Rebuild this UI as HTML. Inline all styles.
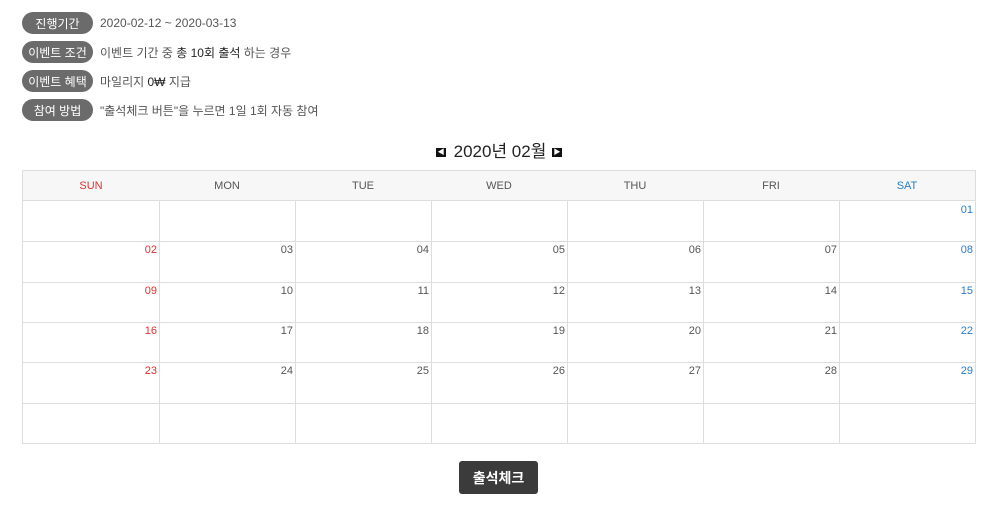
<!DOCTYPE html>
<html><head><meta charset="utf-8">
<style>
body{margin:0;width:1000px;height:515px;background:#fff;font-family:"Liberation Sans","Noto Sans CJK KR",sans-serif;position:relative;overflow:hidden}
.row{position:absolute;left:22px;height:22px;display:flex;align-items:center}
.pill{width:71px;height:22px;border-radius:11px;background:#6b6b6b;color:#fff;font-size:12px;font-weight:normal;display:flex;align-items:center;justify-content:center}
.txt{margin-left:7px;font-size:12px;color:#555}
.txt b{color:#222;font-weight:normal}
#title{position:absolute;top:141px;left:0;width:1000px;text-align:center;font-size:17px;color:#222;line-height:22px}
.nav{position:absolute;top:148px;width:10px;height:9px;background:#111;color:#fff;font-size:7px;line-height:9px;text-align:center}
#cal{position:absolute;left:22px;top:170px;width:954px;height:274px;border:1px solid #ddd;box-sizing:border-box}
.cell{position:absolute;box-sizing:border-box;border-right:1px solid #ddd;border-bottom:1px solid #ddd;font-size:11px;color:#555}
.hd{background:#f7f7f7;text-align:center;line-height:30px}
.day{text-align:right;padding:3px 2px 0 0}
#btn{position:absolute;left:459px;top:461px;width:79px;height:33px;background:#3b3b3b;border-radius:3px;color:#fff;font-size:14px;font-weight:bold;display:flex;align-items:center;justify-content:center}
</style></head><body>
<div class="row" style="top:12px"><div class="pill">진행기간</div><div class="txt">2020-02-12 ~ 2020-03-13</div></div>
<div class="row" style="top:41px"><div class="pill">이벤트 조건</div><div class="txt">이벤트 기간 중 <b>총 10회 출석</b> 하는 경우</div></div>
<div class="row" style="top:70px"><div class="pill">이벤트 혜택</div><div class="txt">마일리지 <b>0₩</b> 지급</div></div>
<div class="row" style="top:99px"><div class="pill">참여 방법</div><div class="txt">"출석체크 버튼"을 누르면 1일 1회 자동 참여</div></div>
<div class="nav" style="left:436px">◀</div>
<div id="title">2020년 02월</div>
<div class="nav" style="left:552px">▶</div>
<div id="cal"></div>
<div id="btn">출석체크</div>
<script>
const weekdays=["SUN","MON","TUE","WED","THU","FRI","SAT"];
const firstWeekday=6;
const daysInMonth=29;
const weeks=6;
const cal=document.getElementById('cal');
const cw=952/7, hh=30, rh=(272-hh)/weeks;
function color(i){return i===0?'#e03030':i===6?'#2a7cc7':'#555';}
weekdays.forEach((w,i)=>{
  const d=document.createElement('div');
  d.className='cell hd';
  
  
  d.style.cssText=`left:${i*cw}px;top:0;width:${cw+(i<6?1:0)}px;height:${hh}px;color:${color(i)};${i==6?'border-right:none':''}`;
  d.textContent=w;cal.appendChild(d);
});
for(let r=0;r<weeks;r++)for(let c=0;c<7;c++){
  const n=r*7+c-firstWeekday+1;
  const d=document.createElement('div');
  d.className='cell day';
  
  
  d.style.cssText=`left:${c*cw}px;top:${hh+r*rh}px;width:${cw+(c<6?1:0)}px;height:${rh+1}px;color:${color(c)};${c==6?'border-right:none;':''}${r==weeks-1?'border-bottom:none;':''}`;
  if(n>=1&&n<=daysInMonth)d.textContent=String(n).padStart(2,'0');
  cal.appendChild(d);
}
</script>
</body></html>
